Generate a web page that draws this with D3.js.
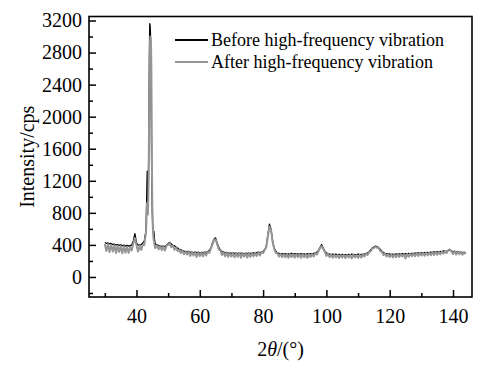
<!DOCTYPE html>
<html><head><meta charset="utf-8">
<script src="https://cdn.jsdelivr.net/npm/d3@7"></script>
<style>
body{margin:0;background:#fff}
svg{display:block}
text{font-family:"Liberation Serif","Times New Roman",serif;fill:#000}
</style>
</head><body>
<svg id="c" width="477" height="365"></svg>
<script>
// 2θ grid (degrees): coarse baseline, fine around the main peak
const anglesLow  = d3.range(30, 42.01, 0.5);
const anglesPeak = d3.range(42.5, 46.001, 0.1).map(v => Math.round(v * 10) / 10);
const anglesHigh = d3.range(46.5, 144.01, 0.5);
const angles = [...anglesLow, ...anglesPeak, ...anglesHigh];

const beforeLow = [430, 418, 424, 412, 418, 404, 410, 398, 405, 394, 400, 390, 397, 386, 394, 384, 392, 398, 450, 540, 425, 396, 400, 405, 425];
const beforePeak = [450, 480, 510, 530, 545, 600, 720, 900, 1150, 1320, 1180, 950, 1000, 1250, 1700, 2300, 2850, 3160, 3140, 3060, 2850, 2400, 1850, 1350, 1000, 820, 680, 600, 560, 540, 570, 520, 470, 440, 420, 410];
const beforeHigh = [
  400, 392, 388, 380, 384, 378, 395, 415, 432, 410,
  395, 390, 372, 360, 345, 338, 330, 322, 318, 312,
  320, 305, 312, 300, 315, 302, 310, 298, 306, 300,
  312, 305, 318, 330, 360, 420, 470, 488, 420, 370,
  335, 318, 310, 300, 306, 296, 303, 295, 300, 293,
  298, 290, 302, 292, 298, 289, 296, 290, 300, 292,
  298, 300, 292, 305, 310, 300, 315, 320, 340, 380,
  520, 660, 600, 450, 360, 320, 300, 295, 288, 292,
  285, 290, 283, 288, 282, 295, 285, 290, 284, 288,
  282, 290, 284, 287, 280, 292, 283, 290, 286, 295,
  300, 310, 330, 370, 405, 360, 320, 300, 290, 285,
  280, 286, 278, 284, 276, 282, 275, 283, 276, 280,
  274, 282, 276, 284, 278, 280, 275, 285, 278, 282,
  280, 288, 292, 300, 315, 340, 360, 375, 385, 380,
  365, 345, 320, 305, 295, 290, 284, 288, 280, 286,
  280, 287, 282, 288, 284, 290, 285, 292, 287, 293,
  288, 295, 290, 298, 293, 300, 295, 302, 298, 305,
  300, 308, 302, 310, 305, 312, 308, 315, 310, 318,
  315, 325, 318, 320, 330, 345, 322, 315, 320, 310,
  318, 305, 312, 300, 308, 298];

const afterLow = [412, 325, 408, 310, 400, 318, 395, 300, 390, 312, 385, 295, 382, 302, 378, 298, 375, 330, 420, 485, 395, 318, 385, 338, 405];
const afterPeak = [400, 440, 470, 500, 520, 560, 650, 800, 920, 880, 820, 780, 900, 1150, 1550, 2000, 2500, 2800, 2950, 3000, 2980, 2900, 2600, 2000, 1300, 900, 700, 590, 520, 480, 450, 430, 400, 380, 360, 370];
const afterHigh = [
  395, 345, 385, 335, 380, 330, 390, 400, 420, 370,
  390, 340, 368, 322, 340, 298, 326, 285, 314, 280,
  316, 262, 310, 268, 312, 250, 306, 262, 304, 258,
  310, 268, 315, 300, 350, 405, 460, 470, 405, 345,
  332, 275, 306, 258, 304, 250, 300, 255, 298, 245,
  296, 252, 300, 240, 296, 255, 295, 242, 298, 250,
  296, 258, 292, 262, 308, 268, 312, 300, 336, 372,
  505, 630, 590, 440, 352, 300, 298, 255, 286, 248,
  283, 245, 282, 240, 281, 250, 284, 242, 283, 248,
  281, 240, 283, 246, 279, 238, 282, 250, 285, 255,
  298, 280, 325, 360, 385, 350, 315, 262, 288, 248,
  279, 240, 277, 245, 275, 236, 274, 242, 275, 235,
  273, 242, 275, 232, 277, 245, 274, 238, 277, 242,
  279, 255, 290, 275, 313, 320, 355, 360, 380, 365,
  362, 322, 318, 272, 293, 255, 283, 250, 279, 245,
  279, 248, 281, 250, 283, 255, 284, 230, 286, 252,
  290, 258, 292, 260, 295, 262, 298, 268, 300, 265,
  302, 270, 305, 272, 308, 275, 310, 278, 312, 282,
  316, 290, 320, 298, 332, 335, 322, 288, 322, 280,
  318, 284, 314, 278, 310, 286];

const before = [...beforeLow, ...beforePeak, ...beforeHigh];
const after = [...afterLow, ...afterPeak, ...afterHigh];

const xMajor = [40, 60, 80, 100, 120, 140];
const xMinor = [30, 50, 70, 90, 110, 130];
const yMajor = [0, 400, 800, 1200, 1600, 2000, 2400, 2800, 3200];
const yMinor = [-200, 200, 600, 1000, 1400, 1800, 2200, 2600, 3000];
const seriesNames = ["Before high-frequency vibration", "After high-frequency vibration"];
const seriesColors = ["#000000", "#959595"];

const FONT = '"Liberation Serif","Times New Roman",serif';
const L = 89, R = 472, T = 16.5, B = 297;
const svg = d3.select("#c");
const x = d3.scaleLinear().domain([25, 146]).range([L, R]);
const y = d3.scaleLinear().domain([-250, 3250]).range([B, T]);

const line = d3.line().x(d => x(d[0])).y(d => y(d[1]));
const dataBefore = angles.map((a, i) => [a, before[i]]);
const dataAfter = angles.map((a, i) => [a, after[i]]);

svg.append("path").datum(dataBefore).attr("d", line)
  .attr("fill", "none").attr("stroke", seriesColors[0]).attr("stroke-width", 1.3)
  .attr("stroke-linejoin", "round");
svg.append("path").datum(dataAfter).attr("d", line)
  .attr("fill", "none").attr("stroke", seriesColors[1]).attr("stroke-width", 2)
  .attr("stroke-linejoin", "round");

// axes
const fs = "20px";
function styleAxis(g) {
  g.select(".domain").remove();
  g.attr("font-family", FONT).attr("font-size", 20);
  g.selectAll("text").style("font-size", fs).style("font-family", FONT);
  g.selectAll("line").attr("stroke-width", 1.5).attr("stroke", "#000");
}
const gx = svg.append("g").attr("transform", `translate(0,${B})`)
  .call(d3.axisBottom(x).tickValues(xMajor).tickSize(-7).tickPadding(12).tickFormat(d3.format("d")));
styleAxis(gx);
const gxm = svg.append("g").attr("transform", `translate(0,${B})`)
  .call(d3.axisBottom(x).tickValues(xMinor).tickSize(-4).tickFormat(""));
styleAxis(gxm);

const gy = svg.append("g").attr("transform", `translate(${L},0)`)
  .call(d3.axisLeft(y).tickValues(yMajor).tickSize(-7).tickPadding(7).tickFormat(d3.format("d")));
styleAxis(gy);
const gym = svg.append("g").attr("transform", `translate(${L},0)`)
  .call(d3.axisLeft(y).tickValues(yMinor).tickSize(-4).tickFormat(""));
styleAxis(gym);

svg.append("rect").attr("x", L).attr("y", T).attr("width", R - L).attr("height", B - T)
  .attr("fill", "none").attr("stroke", "#000").attr("stroke-width", 1.6);

// titles
svg.append("text").attr("transform", `translate(34,${(T + B) / 2}) rotate(-90)`)
  .attr("text-anchor", "middle").style("font-size", "20px").text("Intensity/cps");
const xt = svg.append("text").attr("x", (L + R) / 2).attr("y", 356)
  .attr("text-anchor", "middle").style("font-size", "20px");
xt.append("tspan").text("2");
xt.append("tspan").attr("font-style", "italic").text("θ");
xt.append("tspan").text("/(°)");

// legend
const lg = svg.append("g");
seriesNames.forEach((n, i) => {
  const yy = 40 + i * 22;
  lg.append("line").attr("x1", 175).attr("x2", 208).attr("y1", yy).attr("y2", yy)
    .attr("stroke", seriesColors[i]).attr("stroke-width", 2);
  lg.append("text").attr("x", 211).attr("y", yy + 5.5).style("font-size", "18px").text(n);
});
</script>
</body></html>
